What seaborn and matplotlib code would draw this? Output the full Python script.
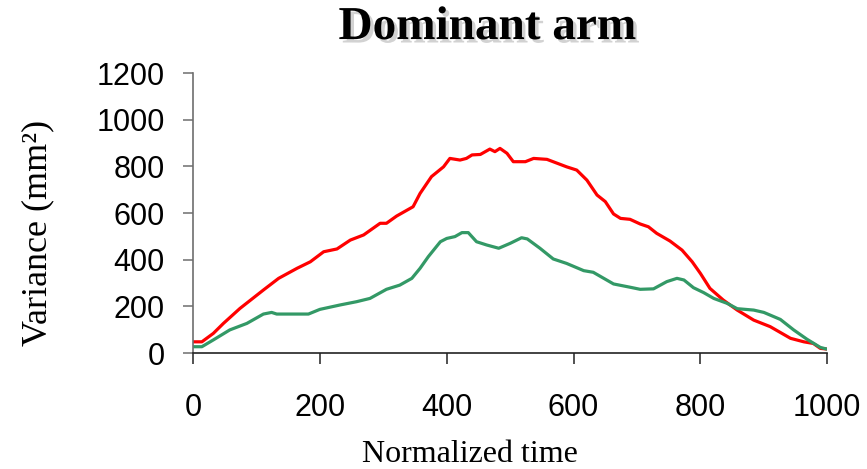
import numpy as np
import pandas as pd
import matplotlib
matplotlib.use("Agg")
import matplotlib.pyplot as plt
import matplotlib.patheffects as pe
import seaborn as sns

# ---- data ----
red_t = [0, 14, 32, 48, 74, 111, 135, 164, 185, 206, 227, 248, 269, 295, 305, 321, 347, 358,
         376, 395, 405, 421, 431, 440, 453, 468, 476, 484, 495, 505, 524, 537, 558, 589, 605,
         621, 637, 650, 663, 674, 689, 705, 718, 731, 752, 771, 787, 800, 815, 836, 858, 884,
         910, 942, 963, 978, 989, 999]
red_v = [48, 48, 84, 127, 191, 270, 320, 363, 391, 434, 446, 484, 506, 556, 556, 587, 627, 684,
         756, 798, 834, 827, 834, 849, 851, 874, 863, 877, 856, 820, 820, 834, 830, 798, 784,
         741, 677, 649, 596, 577, 573, 553, 541, 513, 480, 441, 391, 341, 277, 227, 184, 141,
         113, 63, 48, 41, 20, 17]

green_t = [0, 14, 32, 58, 85, 111, 124, 132, 182, 200, 232, 258, 279, 305, 326, 345, 358, 371,
           390, 400, 413, 424, 434, 447, 463, 482, 500, 518, 527, 547, 568, 589, 616, 631, 663,
           689, 705, 726, 747, 763, 774, 789, 805, 821, 842, 858, 884, 900, 926, 947, 968, 989,
           999]
green_v = [27, 27, 56, 99, 127, 167, 174, 167, 167, 187, 206, 220, 234, 273, 291, 320, 363, 413,
           477, 491, 499, 516, 516, 477, 463, 449, 470, 494, 489, 449, 403, 384, 353, 346, 296,
           282, 273, 275, 306, 320, 313, 280, 259, 234, 213, 190, 184, 174, 144, 99, 59, 24,
           17]

x_ticks = [0, 200, 400, 600, 800, 1000]
y_ticks = [0, 200, 400, 600, 800, 1000, 1200]

df = pd.concat([
    pd.DataFrame({"t": red_t, "v": red_v, "series": "A"}),
    pd.DataFrame({"t": green_t, "v": green_v, "series": "B"}),
], ignore_index=True)

sns.set_theme(style="white")
plt.rcParams['font.family'] = ['Liberation Sans', 'DejaVu Sans']
plt.rcParams['text.color'] = 'black'

fig = plt.figure(figsize=(8.67, 4.69), dpi=100)
ax = fig.add_axes([0.2226, 0.2473, 0.7316, 0.5970])

sns.lineplot(data=df, x="t", y="v", hue="series",
             palette={"A": "#FF0000", "B": "#339966"},
             linewidth=2.3, legend=False, ax=ax, sort=False)

ax.set_xlim(0, 1000)
ax.set_ylim(0, 1200)
ax.set_xticks(x_ticks)
ax.set_yticks(y_ticks)
ax.set_xticklabels([str(v) for v in x_ticks])
ax.set_yticklabels([str(v) for v in y_ticks])

for s in ["top", "right"]:
    ax.spines[s].set_visible(False)
ax.spines["left"].set_color("#6e6e6e")
ax.spines["bottom"].set_color("#222222")
ax.spines["left"].set_linewidth(1.2)
ax.spines["bottom"].set_linewidth(1.2)

ax.tick_params(axis="x", direction="out", length=8, width=1.1, color="#222222",
               pad=21, labelsize=22, labelcolor="black", bottom=True)
ax.tick_params(axis="y", direction="out", length=7.5, width=1.1, color="#6e6e6e",
               pad=13, labelsize=22, labelcolor="black", left=True)

ax.set_xlabel("Normalized time", family=["Liberation Serif", "DejaVu Serif"],
              fontsize=23, labelpad=12, color="black")
ax.xaxis.label.set_position((0.437, 0))
ax.set_ylabel("Variance (mm²)", family=["Liberation Serif", "DejaVu Serif"],
              fontsize=26, labelpad=30, color="black")
ax.yaxis.label.set_position((0, 0.43))

title = fig.text(0.562, 0.985, "Dominant arm", ha="center", va="top",
                 family=["Liberation Serif", "DejaVu Serif"],
                 fontsize=34, fontweight="bold", color="black")
title.set_path_effects([pe.SimplePatchShadow(offset=(2.5, -2.5), alpha=0.35, shadow_rgbFace="gray"),
                        pe.Normal()])

fig.savefig("out.png", dpi=100)
